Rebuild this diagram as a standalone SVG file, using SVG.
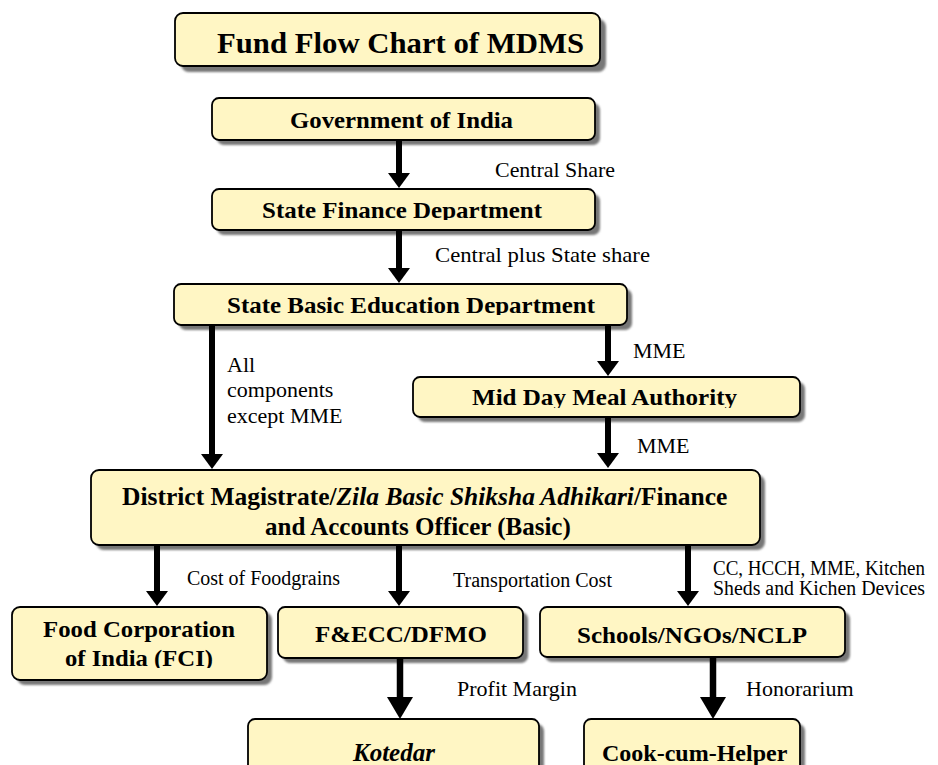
<svg xmlns="http://www.w3.org/2000/svg" width="938" height="765" viewBox="0 0 938 765">
<style>
.box{fill:#FFF6C4;stroke:#000;stroke-width:1.8}
.sh{fill:#777;filter:url(#blur)}
.nt{font-family:"Liberation Serif","Times New Roman",serif;font-weight:bold;font-size:23px;fill:#000}
.lb{font-family:"Liberation Serif","Times New Roman",serif;font-size:22px;fill:#000}
.lb2{font-family:"Liberation Serif","Times New Roman",serif;font-size:20px;fill:#000}
.ar{stroke:#000;stroke-width:6;fill:none;marker-end:url(#ah)}
.ar2{stroke:#000;stroke-width:6.5;fill:none;marker-end:url(#ah2)}
</style>
<defs>
<filter id="blur" x="-5%" y="-20%" width="110%" height="140%"><feGaussianBlur stdDeviation="1.2"/></filter>
<marker id="ah" markerUnits="userSpaceOnUse" viewBox="0 0 15 22" refX="2" refY="11" markerWidth="15" markerHeight="22" orient="auto"><polygon points="0,0 15,11 0,22" fill="#000"/></marker>
<marker id="ah2" markerUnits="userSpaceOnUse" viewBox="0 0 22 26" refX="2" refY="13" markerWidth="22" markerHeight="26" orient="auto"><polygon points="0,0 22,13 0,26" fill="#000"/></marker>
<clipPath id="c-sfd"><rect x="212" y="189" width="383" height="31"/></clipPath>
<clipPath id="c-sbed"><rect x="174" y="284" width="453" height="31"/></clipPath>
<clipPath id="c-mdm"><rect x="413" y="377" width="387" height="31"/></clipPath>
<clipPath id="c-fci"><rect x="12" y="607" width="255" height="61"/></clipPath>
</defs>

<g id="title">
<rect class="sh" x="181" y="19" width="425" height="53" rx="8"/>
<rect class="box" x="175" y="13" width="425" height="53" rx="8"/>
<text class="nt" x="217" y="53" style="font-size:30px" textLength="367" lengthAdjust="spacingAndGlyphs">Fund Flow Chart of MDMS</text>
</g>

<g id="gov">
<rect class="sh" x="217" y="103" width="383" height="42" rx="7"/>
<rect class="box" x="212" y="98" width="383" height="42" rx="7"/>
<text class="nt" x="290" y="128" textLength="223" lengthAdjust="spacingAndGlyphs">Government of India</text>
</g>

<g id="sfd">
<rect class="sh" x="217" y="194" width="383" height="41" rx="7"/>
<rect class="box" x="212" y="189" width="383" height="41" rx="7"/>
<text class="nt" x="262" y="218" textLength="280" lengthAdjust="spacingAndGlyphs" clip-path="url(#c-sfd)">State Finance Department</text>
</g>

<g id="sbed">
<rect class="sh" x="179" y="289" width="453" height="41" rx="7"/>
<rect class="box" x="174" y="284" width="453" height="41" rx="7"/>
<text class="nt" x="227" y="313" textLength="368" lengthAdjust="spacingAndGlyphs" clip-path="url(#c-sbed)">State Basic Education Department</text>
</g>

<g id="mdm">
<rect class="sh" x="418" y="382" width="387" height="40" rx="7"/>
<rect class="box" x="413" y="377" width="387" height="40" rx="7"/>
<text class="nt" x="472" y="405" textLength="265" lengthAdjust="spacingAndGlyphs" clip-path="url(#c-mdm)">Mid Day Meal Authority</text>
</g>

<g id="dm">
<rect class="sh" x="96" y="475" width="669" height="75" rx="8"/>
<rect class="box" x="91" y="470" width="669" height="75" rx="8"/>
<text class="nt" x="122" y="505" style="font-size:25.5px">District Magistrate/<tspan font-style="italic">Zila Basic Shiksha Adhikari</tspan>/Finance</text>
<text class="nt" x="265" y="535" style="font-size:25px">and Accounts Officer (Basic)</text>
</g>

<g id="fci">
<rect class="sh" x="17" y="612" width="255" height="73" rx="8"/>
<rect class="box" x="12" y="607" width="255" height="73" rx="8"/>
<g clip-path="url(#c-fci)">
<text class="nt" x="43" y="637" textLength="192" lengthAdjust="spacingAndGlyphs">Food Corporation</text>
<text class="nt" x="65" y="666" textLength="148" lengthAdjust="spacingAndGlyphs">of India (FCI)</text>
</g>
</g>

<g id="fecc">
<rect class="sh" x="283" y="612" width="245" height="51" rx="7"/>
<rect class="box" x="278" y="607" width="245" height="51" rx="7"/>
<text class="nt" x="315" y="642" textLength="172" lengthAdjust="spacingAndGlyphs">F&amp;ECC/DFMO</text>
</g>

<g id="schools">
<rect class="sh" x="545" y="612" width="305" height="50" rx="7"/>
<rect class="box" x="540" y="607" width="305" height="50" rx="7"/>
<text class="nt" x="577" y="643" textLength="230" lengthAdjust="spacingAndGlyphs">Schools/NGOs/NCLP</text>
</g>

<g id="kotedar">
<rect class="sh" x="253" y="724" width="291" height="60" rx="7"/>
<rect class="box" x="248" y="719" width="291" height="60" rx="7"/>
<text class="nt" x="353" y="761" style="font-size:25px;font-style:italic">Kotedar</text>
</g>

<g id="cook">
<rect class="sh" x="589" y="724" width="216" height="60" rx="7"/>
<rect class="box" x="584" y="719" width="216" height="60" rx="7"/>
<text class="nt" x="602" y="761" style="font-size:24px">Cook-cum-Helper</text>
</g>

<g id="connectors">
<line class="ar" x1="399" y1="140" x2="399" y2="175"/>
<line class="ar" x1="399" y1="230" x2="399" y2="270"/>
<line class="ar" x1="212" y1="325" x2="212" y2="456"/>
<line class="ar" x1="608" y1="325" x2="608" y2="363"/>
<line class="ar" x1="608" y1="417" x2="608" y2="455"/>
<line class="ar" x1="157" y1="545" x2="157" y2="593"/>
<line class="ar" x1="399" y1="545" x2="399" y2="593"/>
<line class="ar" x1="688" y1="545" x2="688" y2="593"/>
<line class="ar2" x1="400" y1="658" x2="400" y2="699"/>
<line class="ar2" x1="713" y1="657" x2="713" y2="699"/>
<text class="lb" x="495" y="177" textLength="120" lengthAdjust="spacingAndGlyphs">Central Share</text>
<text class="lb" x="435" y="262" textLength="215" lengthAdjust="spacingAndGlyphs">Central plus State share</text>
<text class="lb" x="227" y="372">All</text>
<text class="lb" x="227" y="397">components</text>
<text class="lb" x="227" y="423">except MME</text>
<text class="lb" x="633" y="358">MME</text>
<text class="lb" x="637" y="453">MME</text>
<text class="lb2" x="187" y="585" textLength="153" lengthAdjust="spacingAndGlyphs">Cost of Foodgrains</text>
<text class="lb2" x="453" y="587" textLength="159" lengthAdjust="spacingAndGlyphs">Transportation Cost</text>
<text class="lb2" x="713" y="575" textLength="212" lengthAdjust="spacingAndGlyphs">CC, HCCH, MME, Kitchen</text>
<text class="lb2" x="713" y="595" textLength="212" lengthAdjust="spacingAndGlyphs">Sheds and Kichen Devices</text>
<text class="lb" x="457" y="696">Profit Margin</text>
<text class="lb" x="746" y="696">Honorarium</text>
</g>
</svg>
